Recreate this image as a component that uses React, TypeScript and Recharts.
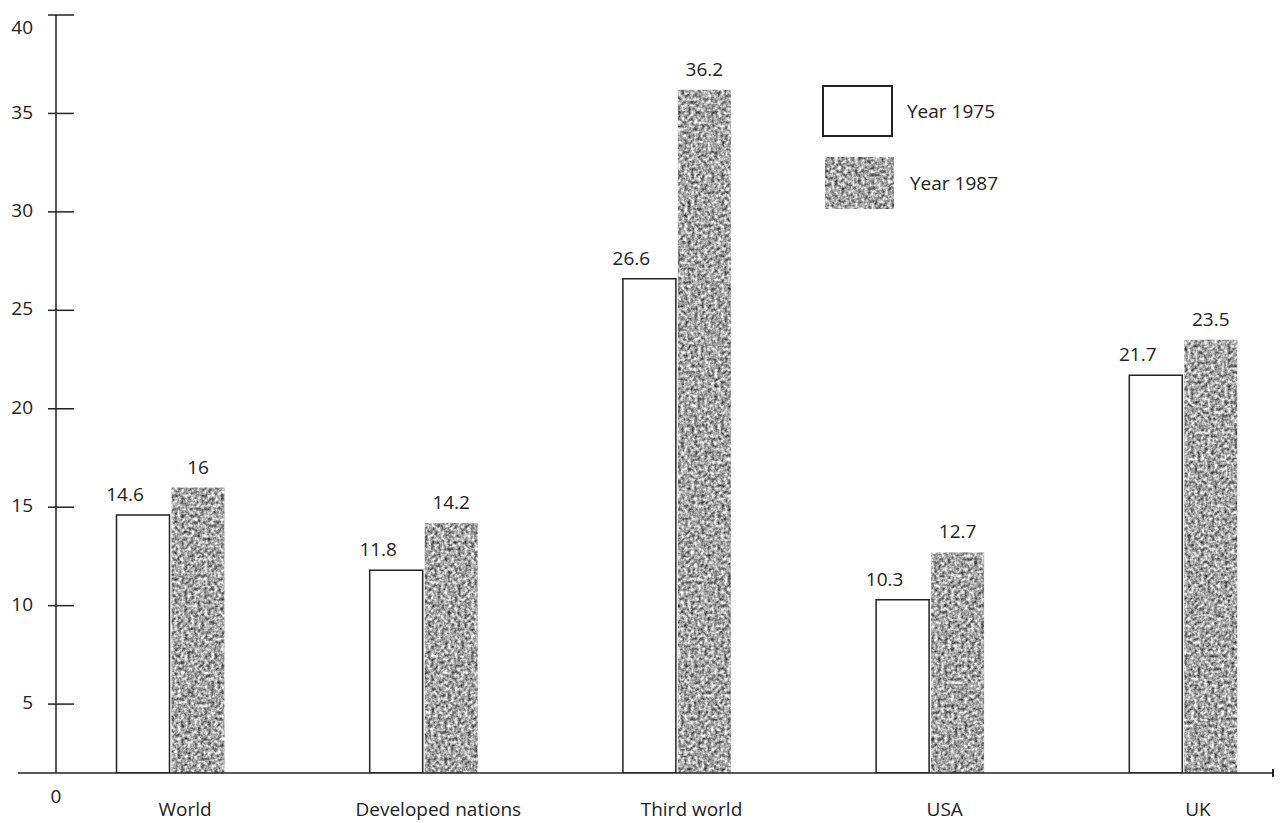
import { BarChart, Bar, XAxis, YAxis, LabelList, Legend } from "recharts";

const CATEGORIES = ["World", "Developed nations", "Third world", "USA", "UK"];
const YEAR_1975 = [14.6, 11.8, 26.6, 10.3, 21.7];
const YEAR_1987 = [16, 14.2, 36.2, 12.7, 23.5];
// the drawn x-axis sits a little above the "0" tick in the original
const AXIS_BASE = 1.5;
const Y_TICKS = [0, AXIS_BASE, 5, 10, 15, 20, 25, 30, 35, 40];

const data = CATEGORIES.map((name, i) => ({ name, y1975: YEAR_1975[i], y1987: YEAR_1987[i] }));

const INK = "#222";

function YTick(props: any) {
  const { x, y, payload } = props;
  const axisX = x + 23;
  const v = payload.value;
  if (v === 0) {
    return (
      <text x={axisX} y={y - 5} textAnchor="middle" dominantBaseline="middle" fill={INK} fontSize={19}>
        0
      </text>
    );
  }
  if (v === AXIS_BASE) {
    return <line x1={axisX - 38} x2={axisX} y1={y} y2={y} stroke={INK} strokeWidth={1.5} />;
  }
  // keep the top label inside the picture
  const ty = Math.max(y, 21);
  return (
    <g>
      <line x1={axisX - 8} x2={axisX + 18} y1={y} y2={y} stroke={INK} strokeWidth={1.5} />
      <text x={x} y={ty} textAnchor="end" dominantBaseline="middle" fill={INK} fontSize={19}>
        {v}
      </text>
    </g>
  );
}

function LegendBox() {
  return (
    <div style={{ fontSize: 19, color: INK, lineHeight: "normal" }}>
      <div style={{ display: "flex", alignItems: "center", height: 52 }}>
        <svg width={71} height={52}>
          <rect x={1} y={1} width={69} height={50} fill="#fff" stroke={INK} strokeWidth={2} />
        </svg>
        <span style={{ marginLeft: 14 }}>Year 1975</span>
      </div>
      <div style={{ display: "flex", alignItems: "center", height: 52, marginTop: 20, marginLeft: 3 }}>
        <svg width={69} height={52}>
          <rect width={69} height={52} fill="url(#speckle)" />
        </svg>
        <span style={{ marginLeft: 16 }}>Year 1987</span>
      </div>
    </div>
  );
}

export default function App() {
  return (
    <div style={{ fontFamily: "'Open Sans', sans-serif", background: "#fff" }}>
      <BarChart
        width={1274}
        height={815}
        data={data}
        margin={{ top: 7, right: 2, left: 0, bottom: 0 }}
        barSize={53}
        barGap={2}
      >
        <defs>
          <filter id="grain" x="0" y="0" width="100%" height="100%" colorInterpolationFilters="sRGB">
            <feTurbulence type="fractalNoise" baseFrequency="0.3" numOctaves="3" seed="4" />
            <feColorMatrix type="matrix" values="1.3 0 0 0 0  1.3 0 0 0 0  1.3 0 0 0 0  0 0 0 0 1" />
            <feGaussianBlur stdDeviation="0.7" />
          </filter>
          <pattern id="speckle" patternUnits="userSpaceOnUse" width="1300" height="830">
            <rect width="1300" height="830" fill="#999" filter="url(#grain)" />
          </pattern>
          <marker id="arrow" viewBox="0 0 10 10" refX="9" refY="5" markerWidth="9" markerHeight="9" markerUnits="userSpaceOnUse" orient="auto">
            <path d="M0,0 L10,5 L0,10 z" fill={INK} />
          </marker>
        </defs>
        <XAxis
          dataKey="name"
          height={50}
          padding={{ left: -12.5, right: -29.5 }}
          tickLine={false}
          tickSize={0}
          tickMargin={30}
          tick={{ fill: INK, fontSize: 19, dx: 15 }}
          axisLine={{ stroke: INK, strokeWidth: 1.5, markerEnd: "url(#arrow)" }}
        />
        <YAxis
          width={48}
          domain={[AXIS_BASE, 40]}
          ticks={Y_TICKS}
          interval={0}
          allowDataOverflow
          tickLine={false}
          tickSize={0}
          tickMargin={23}
          tick={<YTick />}
          axisLine={{ stroke: INK, strokeWidth: 1.5 }}
        />
        <Legend
          layout="vertical"
          align="center"
          verticalAlign="middle"
          content={() => <LegendBox />}
          wrapperStyle={{ left: 814, top: 77, width: "auto" }}
        />
        <Bar dataKey="y1975" name="Year 1975" fill="#fff" stroke={INK} strokeWidth={1.5} isAnimationActive={false}>
          <LabelList dataKey="y1975" position="top" offset={14} dx={-18} fill={INK} fontSize={19} />
        </Bar>
        <Bar dataKey="y1987" name="Year 1987" fill="url(#speckle)" isAnimationActive={false}>
          <LabelList dataKey="y1987" position="top" offset={14} fill={INK} fontSize={19} />
        </Bar>
      </BarChart>
    </div>
  );
}
